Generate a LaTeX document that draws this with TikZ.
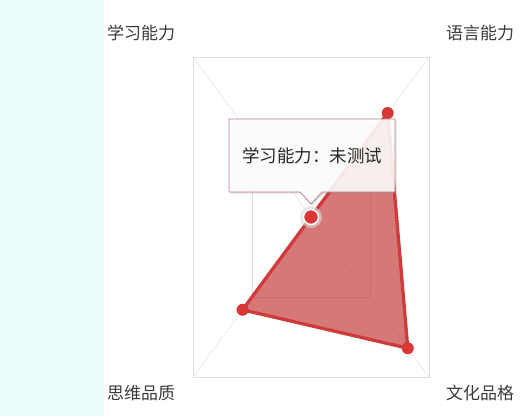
\documentclass[tikz,border=0pt]{standalone}
\usepackage{fontspec}
\newfontfamily\cjk{Noto Sans CJK SC}
\usetikzlibrary{calc,shapes.callouts,shadows}
\definecolor{stripcyan}{HTML}{E8FCFC}
\definecolor{gridline}{HTML}{DDDDDD}
\definecolor{areafill}{HTML}{C03030}
\definecolor{areaedge}{HTML}{D03A3A}
\definecolor{dotred}{HTML}{D93636}
\definecolor{labelgrey}{HTML}{3A3A3A}
\definecolor{tipedge}{HTML}{B88080}
\tikzset{
  axislabel/.style={text=labelgrey, font=\cjk\fontsize{17}{17}\selectfont},
  valuedot/.style={fill=dotred, draw=none},
}

\begin{document}
\begin{tikzpicture}[x=1pt,y=-1pt]
  \useasboundingbox (0,0) rectangle (529,416);
  \fill[stripcyan] (0,0) rectangle (104,416);

  % grid
  \coordinate (o) at (311,217);
  \coordinate (tl) at (193,57);
  \coordinate (tr) at (429,57);
  \coordinate (bl) at (193,377);
  \coordinate (br) at (429,377);
  \draw[gridline] (tl) rectangle (br);
  \draw[gridline] ($(o)!0.5!(tl)$) rectangle ($(o)!0.5!(br)$);
  \foreach \c in {tl,tr,bl,br}
    \draw[gridline] (o) -- (\c);

  % values
  \coordinate (study) at ($(o)!0!(tl)$);
  \coordinate (lang) at ($(o)!0.65!(tr)$);
  \coordinate (culture) at ($(o)!0.82!(br)$);
  \coordinate (think) at ($(o)!0.58!(bl)$);
  \filldraw[fill=areafill, fill opacity=0.65, draw=areaedge, line width=3.3, line join=round]
    (study) -- (lang) -- (culture) -- (think) -- cycle;
  \foreach \p in {lang,culture,think}
    \fill[valuedot] (\p) circle (6);
  \fill[gray!30, opacity=0.6] (study) circle (11);
  \filldraw[fill=dotred, draw=white, line width=1.5] (study) circle (7.5);

  % labels
  \node[axislabel] (lstudy) at (141,33) {学习能力};
  \node[axislabel] (llang) at (480,33) {语言能力};
  \node[axislabel] (lthink) at (141,393) {思维品质};
  \node[axislabel] (lculture) at (480,393) {文化品格};

  % tooltip
  \node[rectangle callout, callout absolute pointer={(311,204)}, callout pointer width=22,
        minimum width=166, minimum height=73, fill=white, fill opacity=0.88, text opacity=1,
        draw=tipedge, line width=0.8, drop shadow={opacity=0.22, shadow xshift=1.5pt, shadow yshift=-1.5pt},
        text=black!85, font=\cjk\fontsize{17.5}{17.5}\selectfont] (tip) at (312,155.5) {学习能力：未测试};
\end{tikzpicture}
\end{document}
